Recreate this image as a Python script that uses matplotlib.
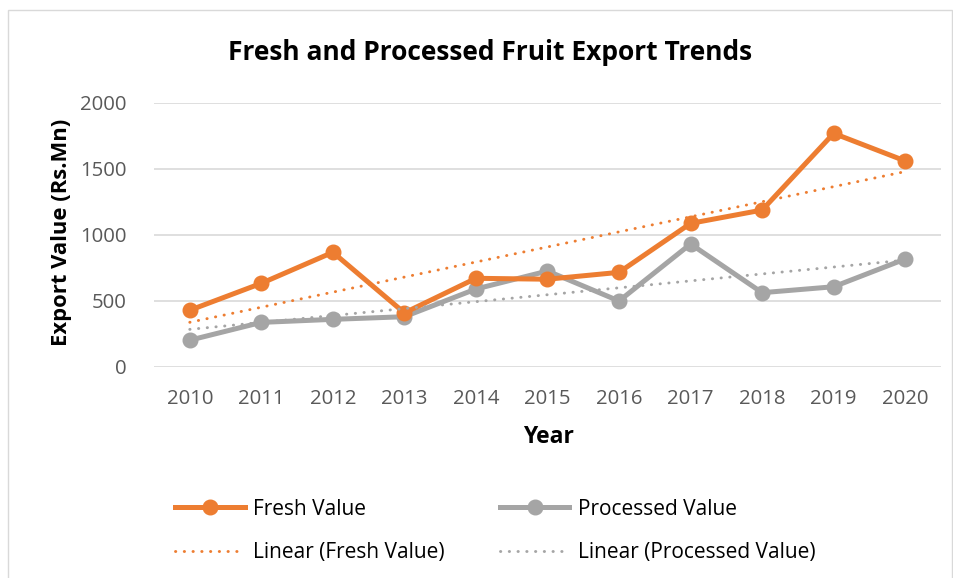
import numpy as np
import matplotlib
matplotlib.use('Agg')
import matplotlib.pyplot as plt
from matplotlib.patches import Rectangle

plt.rc('font', family=['Open Sans', 'DejaVu Sans'])

### -------- data ----------------------------------------
years = [2010, 2011, 2012, 2013, 2014, 2015, 2016, 2017, 2018, 2019, 2020]
fresh = [430, 634, 869, 410, 672, 665, 717, 1088, 1189, 1770, 1561]
processed = [203, 338, 361, 381, 591, 727, 500, 932, 563, 608, 818]
yticks = [0, 500, 1000, 1500, 2000]

orange = '#ED7D31'
grey = '#A5A5A5'
txt = '#595959'

### ---------------- plot -----------
W, H = 954, 578
fig = plt.figure(figsize=(W/100.0, H/100.0), dpi=100)
fig.patches.append(Rectangle((8.0/W, -0.05), (952.0-8)/W, 1.05 - 10.0/H, transform=fig.transFigure,
                             fill=False, edgecolor='#D9D9D9', linewidth=1.0))

ax = fig.add_axes([154.0/W, 1-367.0/H, (941.0-154)/W, (367.0-103)/H])
x = np.arange(len(years))

# trendlines (least squares like Excel)
pf = np.polyfit(x, fresh, 1)
pp = np.polyfit(x, processed, 1)

dots = (0, (0.1, 2.9))
lf, = ax.plot(x, fresh, '-o', color=orange, lw=3.6, markersize=10.5, zorder=4, label='Fresh Value')
lp, = ax.plot(x, processed, '-o', color=grey, lw=3.6, markersize=10.5, zorder=3, label='Processed Value')
tf, = ax.plot(x, np.polyval(pf, x), color=orange, lw=2.1, linestyle=dots, dash_capstyle='round',
              zorder=5, label='Linear (Fresh Value)')
tp, = ax.plot(x, np.polyval(pp, x), color=grey, lw=2.1, linestyle=dots, dash_capstyle='round',
              zorder=5, label='Linear (Processed Value)')

ax.set_xlim(-0.5, len(years) - 0.5)
ax.set_ylim(0, 2000)
ax.set_yticks(yticks)
ax.set_xticks(x)
ax.set_xticklabels([str(y) for y in years])
ax.tick_params(axis='both', length=0, labelsize=14.7, labelcolor=txt)
ax.tick_params(axis='y', pad=20)
ax.tick_params(axis='x', pad=16)
for s in ax.spines.values():
	s.set_visible(False)
ax.grid(axis='y', color='#D9D9D9', linewidth=1.2)
ax.set_axisbelow(True)

fig.text(490.0/W, 1-53.0/H, 'Fresh and Processed Fruit Export Trends', ha='center', va='center',
         fontsize=19, fontweight='bold', color='black')
fig.text(62.0/W, 1-232.0/H, 'Export Value (Rs.Mn)', ha='center', va='center', rotation=90,
         fontsize=15.8, fontweight='bold', color='black')
fig.text(548.0/W, 1-437.0/H, 'Year', ha='center', va='center',
         fontsize=16.5, fontweight='bold', color='black')

fig.legend([lf, tf, lp, tp], [lf.get_label(), tf.get_label(), lp.get_label(), tp.get_label()],
           loc='upper left', bbox_to_anchor=(156.0/W, 1-480.0/H), ncol=2, frameon=False,
           fontsize=15, handlelength=3.35, handletextpad=0.4, columnspacing=2.65,
           labelspacing=1.08, labelcolor='black')

plt.savefig('out.png', dpi=100)
plt.close()
